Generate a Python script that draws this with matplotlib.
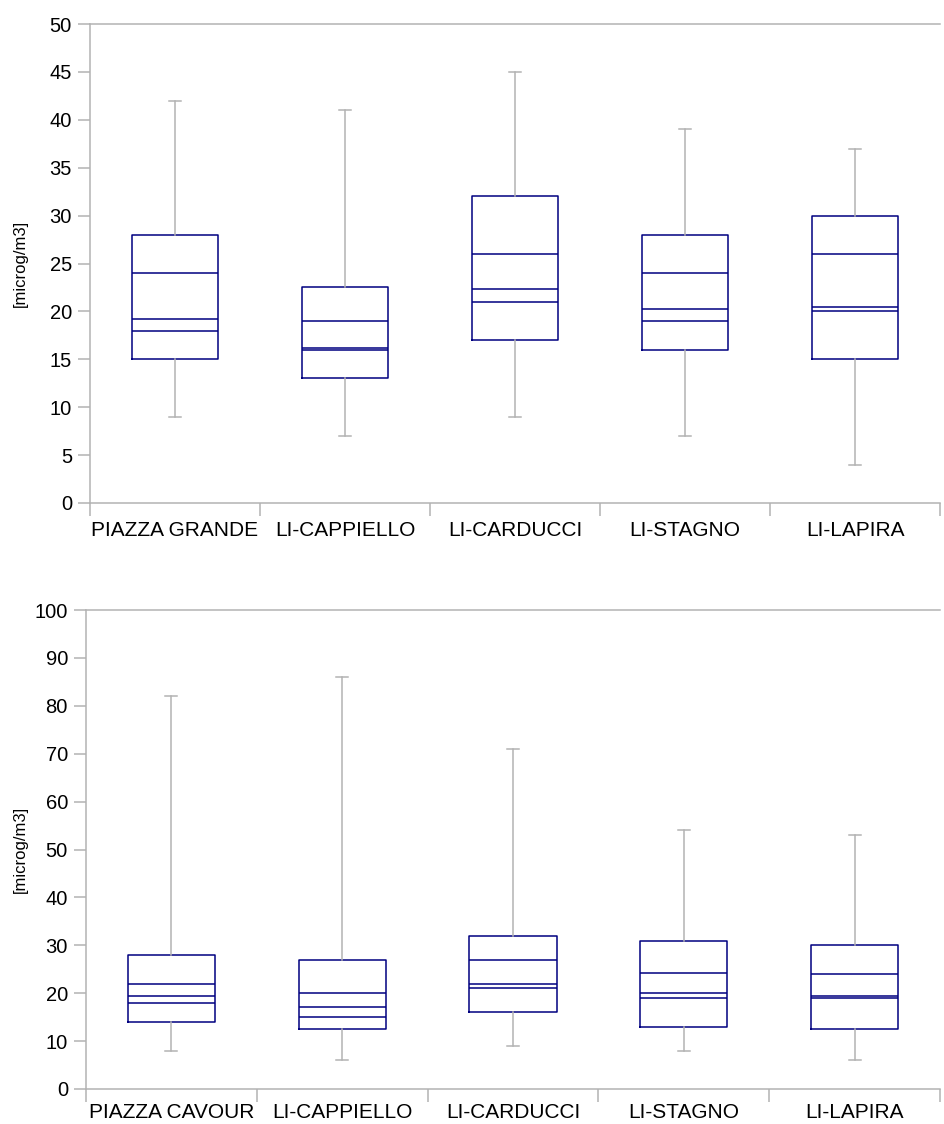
import matplotlib.pyplot as plt

plt.rcParams['font.family'] = ['Liberation Sans', 'DejaVu Sans']

# Grafico superiore
top_labels = ['PIAZZA GRANDE', 'LI-CAPPIELLO', 'LI-CARDUCCI', 'LI-STAGNO', 'LI-LAPIRA']
top_min = [9, 7, 9, 7, 4]
top_q1 = [15, 13, 17, 16, 15]
top_low_line = [18, 16.0, 21, 19, 20]
top_mid_line = [19.2, 16.2, 22.3, 20.3, 20.5]
top_high_line = [24, 19, 26, 24, 26]
top_q3 = [28, 22.5, 32, 28, 30]
top_max = [42, 41, 45, 39, 37]

# Grafico inferiore
bot_labels = ['PIAZZA CAVOUR', 'LI-CAPPIELLO', 'LI-CARDUCCI', 'LI-STAGNO', 'LI-LAPIRA']
bot_min = [8, 6, 9, 8, 6]
bot_q1 = [14, 12.5, 16, 13, 12.5]
bot_low_line = [18, 15, 21, 19, 19]
bot_mid_line = [19.4, 17.1, 22, 20, 19.4]
bot_high_line = [22, 20, 27, 24.2, 24]
bot_q3 = [28, 27, 32, 31, 30]
bot_max = [82, 86, 71, 54, 53]

box_color = '#000080'
grey = '#b3b3b3'


def draw(ax, labels, lo, q1, l1, l2, l3, q3, hi, ymax, ystep, xpad):
    stats = []
    for i in range(len(labels)):
        stats.append(dict(whislo=lo[i], q1=q1[i], med=l2[i], q3=q3[i],
                          whishi=hi[i], fliers=[]))
    pos = list(range(1, len(labels) + 1))
    ax.bxp(stats, positions=pos, widths=0.51, showfliers=False, capwidths=0.07,
           boxprops=dict(color=box_color, linewidth=1.1),
           medianprops=dict(color=box_color, linewidth=1.1),
           whiskerprops=dict(color=grey, linewidth=1.1),
           capprops=dict(color=grey, linewidth=1.1),
           zorder=3)
    for vals in (l1, l3):
        ax.hlines(vals, [p - 0.255 for p in pos], [p + 0.255 for p in pos],
                  colors=box_color, linewidth=1.1, zorder=4)

    ax.set_xlim(0.5, len(labels) + 0.5)
    ax.set_ylim(0, ymax)
    ax.set_yticks(range(0, ymax + 1, ystep))
    ax.set_xticks(pos)
    ax.set_xticklabels(labels)
    ax.set_xticks([p + 0.5 for p in range(0, len(labels) + 1)], minor=True)
    ax.tick_params(axis='x', which='major', length=0, pad=xpad, labelsize=15)
    ax.tick_params(axis='x', which='minor', length=9, color=grey, width=1.1)
    ax.tick_params(axis='y', length=9, color=grey, width=1.1, pad=4, labelsize=14.5)
    for s in ('left', 'bottom', 'top'):
        ax.spines[s].set_color(grey)
        ax.spines[s].set_linewidth(1.1)
    ax.spines['right'].set_visible(False)
    ax.set_ylabel('[microg/m3]', fontsize=12)


fig = plt.figure(figsize=(9.44, 11.24), dpi=100)
W, H = 944, 1124
ax1 = fig.add_axes([90 / W, 1 - 503 / H, 850 / W, 479 / H])
ax2 = fig.add_axes([86 / W, 1 - 1089 / H, 854 / W, 479 / H])

draw(ax1, top_labels, top_min, top_q1, top_low_line, top_mid_line, top_high_line,
     top_q3, top_max, 50, 5, 13)
draw(ax2, bot_labels, bot_min, bot_q1, bot_low_line, bot_mid_line, bot_high_line,
     bot_q3, bot_max, 100, 10, 10)

ax1.yaxis.set_label_coords(-62 / 850, 0.5)
ax2.yaxis.set_label_coords(-58 / 854, 0.5)

fig.savefig('out.png', dpi=100)
